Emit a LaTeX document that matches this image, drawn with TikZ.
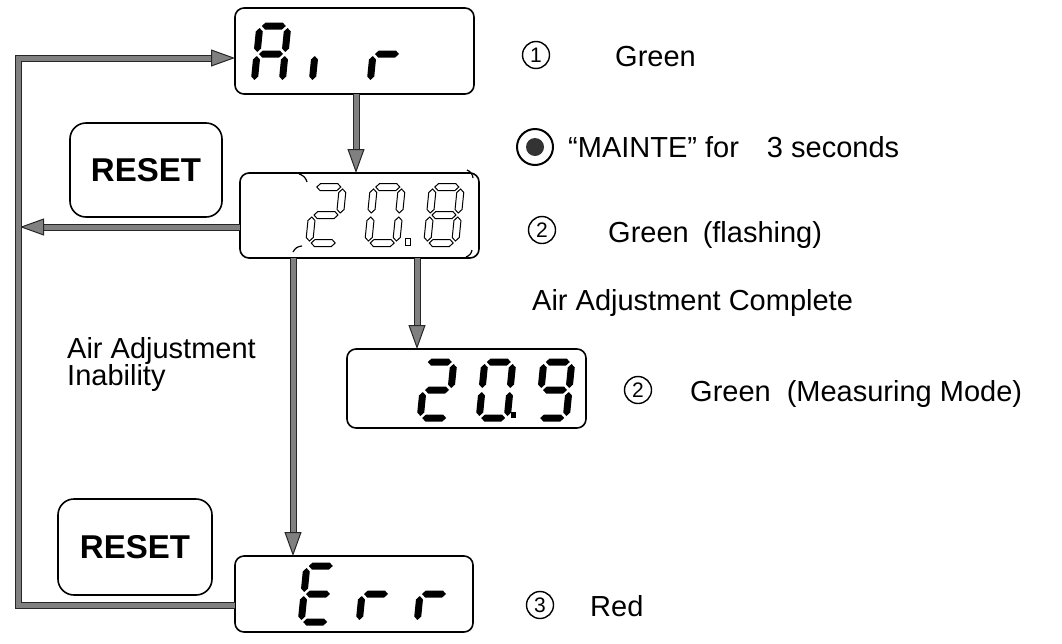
\documentclass[tikz,border=0pt]{standalone}
\usepackage{fontspec}
\setmainfont{Liberation Sans}
\usetikzlibrary{arrows.meta}
\definecolor{bandgray}{RGB}{128,128,128}
\tikzset{
  segstyle/.style={fill=black},
  hollowseg/.style={draw=black, line width=1pt, fill=white},
  lcd/.style={draw, line width=1.6pt, rounded corners=9pt, inner sep=0pt, outer sep=0pt},
  resetbox/.style={draw, line width=1.6pt, rounded corners=16pt, inner sep=0pt, outer sep=0pt,
     font=\bfseries\fontsize{33}{36}\selectfont},
  txt/.style={inner sep=0pt, font=\fontsize{29}{33}\selectfont},
  circnum/.style={circle, draw, line width=1.4pt, minimum size=27pt, inner sep=0pt,
     font=\fontsize{21}{21}\selectfont},
  band/.style={draw=bandgray, line width=5pt, line join=miter,
     preaction={draw=black!85, line width=7pt, shorten >=14pt, -},
     -{Triangle[length=24pt,width=17pt,line width=1pt,color=black!85,fill=bandgray]}},
  flash/.style={line width=1.2pt}
}
\newcommand\hseg[2]{\path[segstyle] ({#1-12},#2) -- ++(3.5,-3.5) -- ++(17,0) -- ++(3.5,3.5) -- ++(-3.5,3.5) -- ++(-17,0) -- cycle;}
\newcommand\vseg[2]{\path[segstyle] (#1,{#2-12}) -- ++(3.5,3.5) -- ++(0,17) -- ++(-3.5,3.5) -- ++(-3.5,-3.5) -- ++(0,-17) -- cycle;}
\newcommand\dsega{\hseg{0}{-28}}
\newcommand\dsegb{\vseg{14}{-14}}
\newcommand\dsegc{\vseg{14}{14}}
\newcommand\dsegd{\hseg{0}{28}}
\newcommand\dsege{\vseg{-14}{14}}
\newcommand\dsegf{\vseg{-14}{-14}}
\newcommand\dsegg{\hseg{0}{0}}
\newcommand\lcddigit[4][]{%
  \begin{scope}[shift={(#2,#3)},xslant=0.1,segstyle/.append style={#1}]
    \foreach \s in {#4}{\csname dseg\s\endcsname}
  \end{scope}}
\begin{document}
\begin{tikzpicture}[x=1pt,y=-1pt]
\useasboundingbox (0,0) rectangle (1062,643);

% display boxes
\node[lcd, minimum width=239pt, minimum height=86pt] (air) at (354.5,51) {};
\node[lcd, minimum width=239pt, minimum height=85pt] (d208) at (359.5,215.5) {};
\node[lcd, minimum width=239pt, minimum height=79pt] (d209) at (466.5,388.5) {};
\node[lcd, minimum width=238pt, minimum height=76pt] (err) at (354,594) {};

% reset buttons
\node[resetbox, minimum width=152pt, minimum height=94pt] (reset1) at (146,170) {RESET};
\node[resetbox, minimum width=154pt, minimum height=96pt] (reset2) at (135,547) {RESET};

% digits: Air
\lcddigit{271}{54}{a,b,c,e,f,g}
\lcddigit{329}{54}{e}
\lcddigit{387}{54}{e,g}
% digits: 20.8 (flashing)
\lcddigit[hollowseg]{326}{215}{a,b,g,e,d}
\lcddigit[hollowseg]{385}{215}{a,b,c,d,e,f}
\lcddigit[hollowseg]{444}{215}{a,b,c,d,e,f,g}
\draw[line width=1pt] (405,238) rectangle (410,245);
\draw[flash] (299,174) to[bend left=30] (307,182);
\draw[flash] (293,252) to[bend left=30] (302,246);
\draw[flash] (467,170) to[bend left=30] (473,178);
\draw[flash] (472,250) to[bend left=30] (466,257);
% digits: 20.9
\lcddigit{437}{390}{a,b,g,e,d}
\lcddigit{496}{390}{a,b,c,d,e,f}
\lcddigit{555}{390}{a,b,c,d,f,g}
\fill (511,412) rectangle (516,418);
% digits: Err
\lcddigit{318}{594}{a,d,e,f,g}
\lcddigit{376}{594}{e,g}
\lcddigit{434}{594}{e,g}

% connector coordinates
\coordinate (xa) at (356,0);
\coordinate (xb) at (293,0);
\coordinate (xc) at (417,0);
\coordinate (ytop) at (0,58);
\coordinate (ymid) at (0,227);
\coordinate (ybot) at (0,605);
\coordinate (lt) at (18,58);
\coordinate (lb) at (18,605);
\coordinate (lm) at (20,227);

% connectors
\draw[band] (air.south -| xa) -- (d208.north -| xa);
\draw[band] (d208.south -| xb) -- (err.north -| xb);
\draw[band] (d208.south -| xc) -- (d209.north -| xc);
\draw[band] (d208.west |- ymid) -- (lm);
\draw[band] (err.west |- ybot) -- (lb) -- (lt) -- (air.west |- ytop);

% labels
\node[circnum] (c1) at (536,55) {1};
\node[txt, anchor=base west] (t1) at (615,66) {Green};
\node[circle, draw, line width=2pt, minimum size=36pt, inner sep=0pt] (mbtn) at (535,147) {};
\node[circle, fill=black!80, minimum size=18pt, inner sep=0pt] (mdot) at (mbtn) {};
\node[txt, anchor=base west] (t2) at (568,157) {“MAINTE” for\hspace{28pt}3 seconds};
\node[circnum] (c2) at (542,230) {2};
\node[txt, anchor=base west] (t3) at (608,242) {Green\hspace{14pt}(flashing)};
\node[txt, anchor=base west] (t4) at (532,310) {Air Adjustment Complete};
\node[circnum] (c3) at (638,390) {2};
\node[txt, anchor=base west] (t5) at (690,401) {Green\hspace{16pt}(Measuring Mode)};
\node[txt, anchor=base west] (t6) at (67,358) {Air Adjustment};
\node[txt, anchor=base west] (t7) at (67,385) {Inability};
\node[circnum] (c4) at (540,605) {3};
\node[txt, anchor=base west] (t8) at (590,616) {Red};
\end{tikzpicture}
\end{document}
